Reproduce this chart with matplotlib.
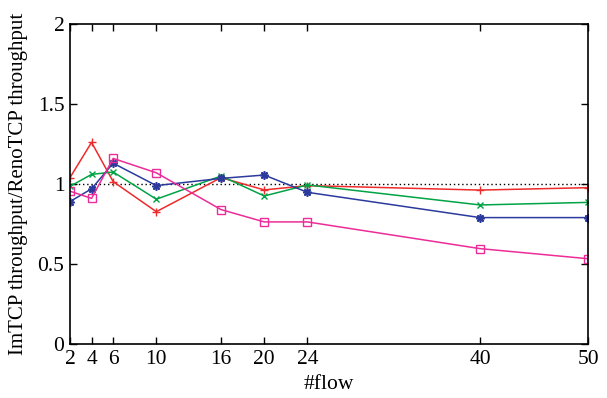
import matplotlib.pyplot as plt

plt.rcParams['font.family'] = ['Liberation Serif', 'DejaVu Serif']

flows = [2, 4, 6, 10, 16, 20, 24, 40, 50]
red_vals = [1.04, 1.26, 1.015, 0.827, 1.04, 0.963, 0.99, 0.962, 0.977]
green_vals = [0.985, 1.06, 1.075, 0.905, 1.05, 0.925, 0.994, 0.869, 0.885]
blue_vals = [0.89, 0.97, 1.13, 0.99, 1.035, 1.056, 0.948, 0.79, 0.79]
magenta_vals = [0.955, 0.91, 1.16, 1.07, 0.84, 0.763, 0.763, 0.596, 0.533]
yticks = [0, 0.5, 1, 1.5, 2]
ytick_labels = ['0', '0.5', '1', '1.5', '2']

fig = plt.figure(figsize=(6.07, 3.98), dpi=100)
ax = fig.add_axes([0.1153, 0.1357, 0.8534, 0.804])

ax.plot([flows[0], flows[-1]], [1, 1], color='black', linestyle=(0, (1, 2)), lw=1)
ax.plot(flows, red_vals, color='#ee2a2a', marker='+', ms=6, mew=1, lw=1.1)
ax.plot(flows, green_vals, color='#00a345', marker='x', ms=5, mew=1, lw=1.1)
ax.plot(flows, blue_vals, color='#2b3a9c', marker=(8, 2, 0), ms=6, mew=1.2, lw=1.1)
ax.plot(flows, magenta_vals, color='#ec2c98', marker='s', ms=6, mfc='none', mew=1, lw=1.1)

ax.set_xlim(2, 50)
ax.set_ylim(0, 2)
ax.set_xticks(flows)
ax.set_yticks(yticks)
ax.set_yticklabels(ytick_labels)
ax.tick_params(direction='in', top=True, right=True, labelsize=15.5, length=5, width=1, pad=4)
for s in ax.spines.values():
    s.set_linewidth(1.2)

ax.set_xlabel('#flow', fontsize=15.5, labelpad=5)
ax.set_ylabel('ImTCP throughput/RenoTCP throughput', fontsize=15, labelpad=7)

fig.savefig('out.png', dpi=100)
